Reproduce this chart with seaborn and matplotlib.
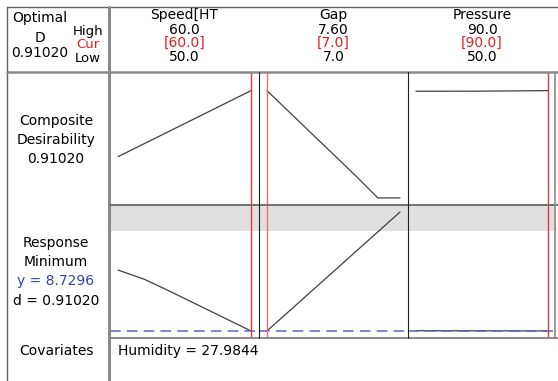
import seaborn as sns
import matplotlib.pyplot as plt
from matplotlib.lines import Line2D

# factor settings
factors = ["Speed[HT", "Gap", "Pressure"]
high_labels = ["60.0", "7.60", "90.0"]
cur_labels = ["[60.0]", "[7.0]", "[90.0]"]
low_labels = ["50.0", "7.0", "50.0"]
factor_low = [50.0, 7.0, 50.0]
factor_high = [60.0, 7.6, 90.0]
factor_cur = [60.0, 7.0, 90.0]

# predicted response / desirability along each factor
speed_levels = [50, 52, 54, 56, 58, 60]
speed_y = [9.504, 9.385, 9.225, 9.060, 8.895, 8.7296]
speed_d = [0.35, 0.462, 0.574, 0.686, 0.798, 0.9102]

gap_levels = [7.0, 7.1, 7.2, 7.3, 7.4, 7.5, 7.6]
gap_y = [8.7296, 8.981, 9.233, 9.485, 9.737, 9.989, 10.241]
gap_d = [0.9102, 0.730, 0.549, 0.369, 0.188, 0.0, 0.0]

pressure_levels = [50, 70, 90]
pressure_y = [8.733, 8.731, 8.7296]
pressure_d = [0.905, 0.906, 0.9102]

y_opt = 8.7296
d_opt = 0.91020
upper_limit = 10.0
humidity = 27.9844

W, H = 558, 381
sns.set_theme(style="white")
plt.rcParams['font.family'] = ['DejaVu Sans']
fig = plt.figure(figsize=(W / 100, H / 100), dpi=100)

def fx(x):
    return x / W

def fy(y):
    return 1 - y / H

def line(x0, y0, x1, y1, color="#808080", lw=1.2):
    fig.add_artist(Line2D([fx(x0), fx(x1)], [fy(y0), fy(y1)], color=color, lw=lw,
                          transform=fig.transFigure))

def txt(x, y, s, color="black", ha="center", size=10):
    fig.text(fx(x), fy(y), s, color=color, ha=ha, va="center", fontsize=size)

panel_x = [(110, 259), (259, 408), (408, 556)]
rows = [(73, 205), (205, 338)]
curves = [(speed_levels, speed_d, speed_y),
          (gap_levels, gap_d, gap_y),
          (pressure_levels, pressure_d, pressure_y)]

for i, (x0, x1) in enumerate(panel_x):
    lo, hi = factor_low[i], factor_high[i]
    pad = 0.06 * (hi - lo)
    levels, d_vals, y_vals = curves[i]
    for r, (y0, y1) in enumerate(rows):
        ax = fig.add_axes([fx(x0), fy(y1), (x1 - x0) / W, (y1 - y0) / H])
        ax.set_xlim(lo - pad, hi + pad)
        if r == 0:
            ax.set_ylim(-0.06, 1.06)
            sns.lineplot(x=levels, y=d_vals, ax=ax, color="#404040", lw=0.9)
        else:
            ax.set_ylim(8.640, 10.330)
            ax.axhspan(upper_limit, 10.330, color="#e0e0e0", lw=0, zorder=0)
            sns.lineplot(x=levels, y=y_vals, ax=ax, color="#404040", lw=0.9)
            ax.axhline(y_opt, color="#5a68c4", lw=1.1, dashes=(7, 4))
        red = "#e03a3a" if i != 1 else "#ee7070"
        ax.axvline(factor_cur[i], color=red, lw=1.0)
        ax.set_axis_off()

# frame
line(7, 7, 558, 7, color="#606060", lw=1.0)
line(7, 7, 7, 381, color="#606060", lw=1.0)
line(7, 72, 558, 72, color="#8a8a8a", lw=1.8)
line(109, 7, 109, 381, color="#8a8a8a", lw=2.2)
line(110, 205, 558, 205, color="#707070", lw=1.4)
line(110, 338, 558, 338, color="#8a8a8a", lw=1.4)
line(259, 72, 259, 338, color="#202020", lw=0.8)
line(408, 72, 408, 338, color="#202020", lw=0.8)
line(555, 72, 555, 338, color="#8a8a8a", lw=1.2)

# header
txt(40, 18, "Optimal")
txt(40, 38, "D")
txt(40, 53, f"{d_opt:.5f}")
txt(88, 31, "High", size=9.5)
txt(88, 44.5, "Cur", color="#e02020", size=9.5)
txt(88, 58, "Low", size=9.5)
for i, (x0, x1) in enumerate(panel_x):
    cx = (x0 + x1) / 2
    txt(cx, 15, factors[i])
    txt(cx, 30, high_labels[i])
    txt(cx, 43, cur_labels[i], color="#e02020")
    txt(cx, 57, low_labels[i])

# row labels
txt(56, 121, "Composite")
txt(56, 140, "Desirability")
txt(56, 159, f"{d_opt:.5f}")
txt(56, 243, "Response")
txt(56, 262, "Minimum")
txt(56, 281, f"y = {y_opt:.4f}", color="#3344aa")
txt(56, 301, f"d = {d_opt:.5f}")
txt(56, 351, "Covariates")
txt(118, 351, f"Humidity = {humidity:.4f}", ha="left")

fig.savefig("out.png", dpi=100)
